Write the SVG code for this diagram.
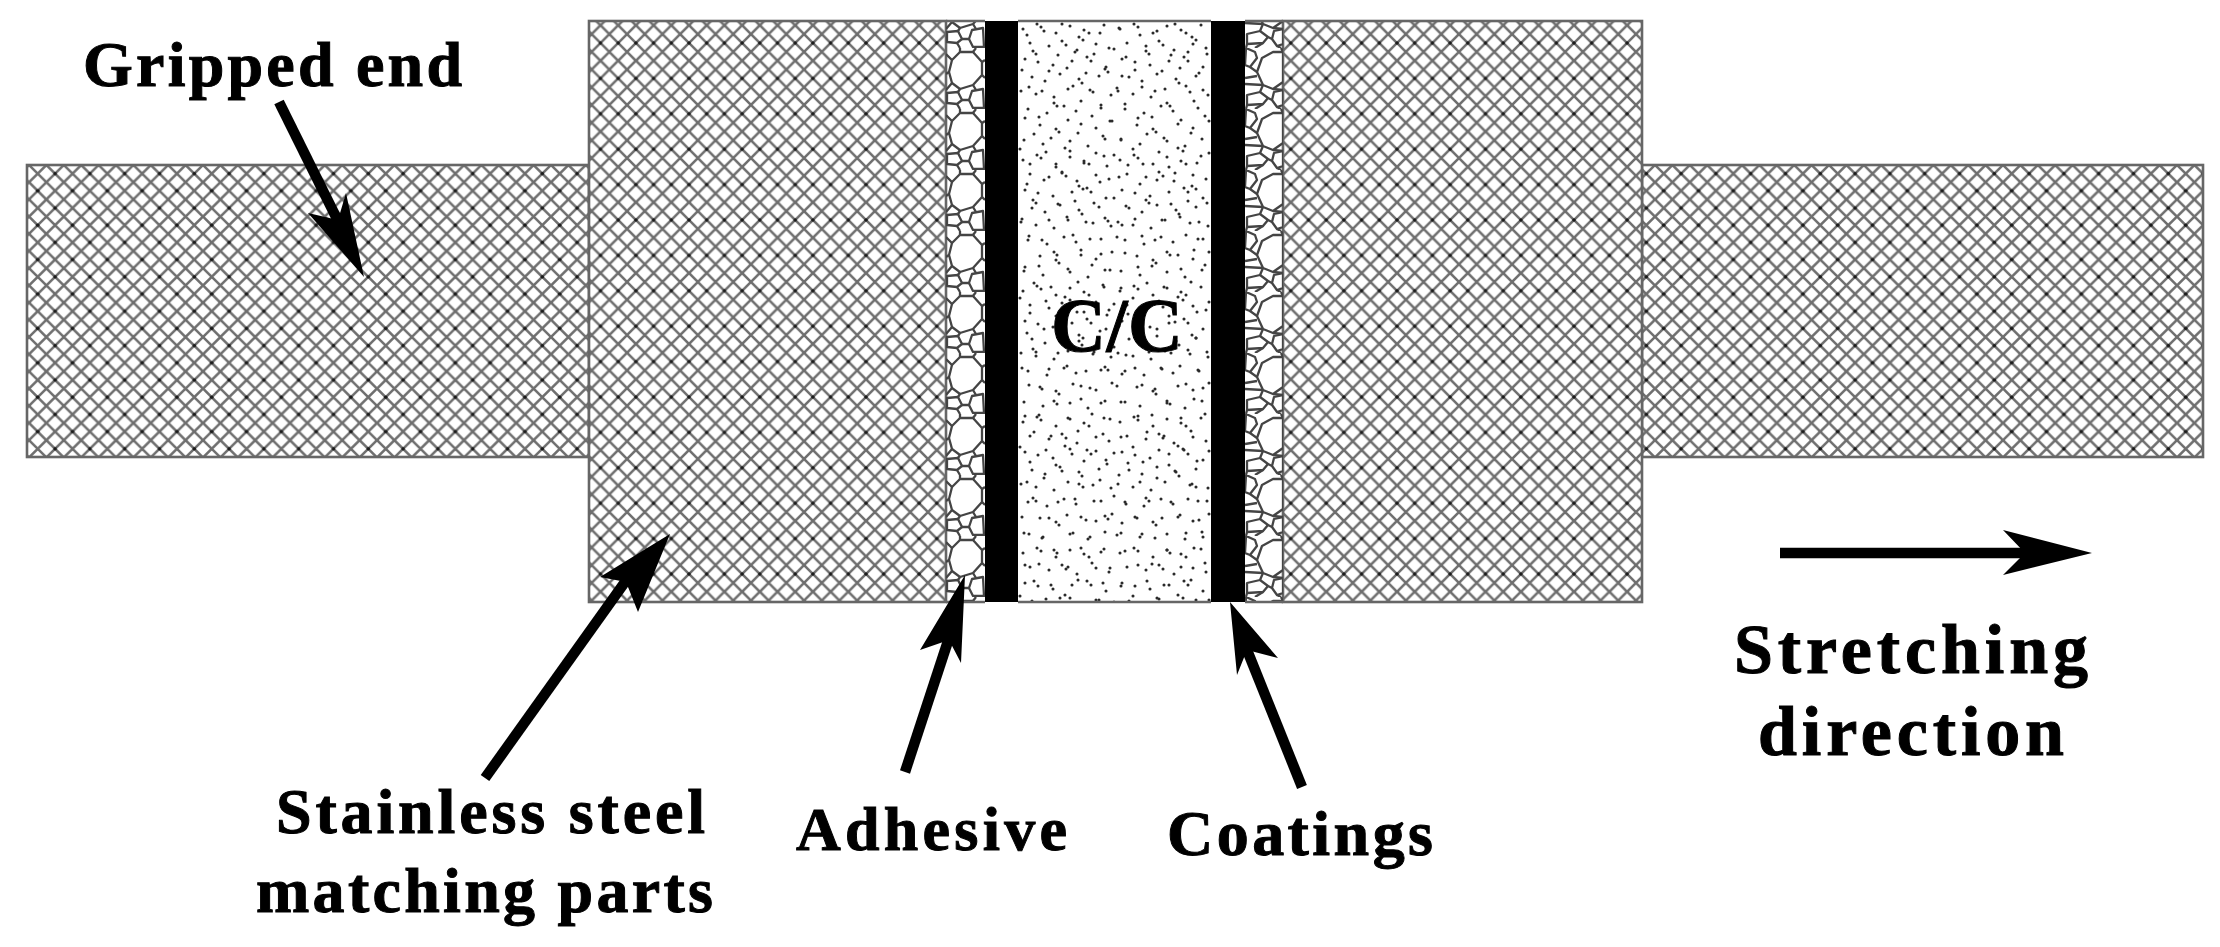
<svg xmlns="http://www.w3.org/2000/svg" width="2220" height="947" viewBox="0 0 2220 947">
<style>
.h{fill:none;stroke:#6e6e6e;stroke-width:2.5}
.n{fill:#1a1a1a}
.o{fill:none;stroke:#666;stroke-width:2.6}
.p{fill:#fff;stroke:#444;stroke-width:2.3;stroke-linejoin:round}
.l{fill:none;stroke:#444;stroke-width:2.3}
.s{fill:none;stroke:#2a2a2a;stroke-width:3.1;stroke-linecap:round}
.t{font-family:"Liberation Serif","Times New Roman",serif;font-weight:700;fill:#000;stroke:#000;stroke-width:1;font-size:64px}
.a line{stroke:#000;stroke-width:10.5}
.a polygon{fill:#000}
</style>
<defs>
<pattern id="fine" width="34.8" height="34.4" patternUnits="userSpaceOnUse" patternTransform="translate(29 165)">
<path class="h" d="M0 0L34.8 34.4M17.4 0L34.8 17.2M0 17.2L17.2 34.4M34.8 0L0 34.4M17.4 0L0 17.2M34.8 17.2L17.4 34.4"/>
<circle class="n" cx="26.1" cy="8.6" r="1.8"/><circle class="n" cx="8.7" cy="25.8" r="1.8"/>
</pattern>
<pattern id="fineR" width="34.8" height="34.4" patternUnits="userSpaceOnUse" patternTransform="translate(1655 165)">
<path class="h" d="M0 0L34.8 34.4M17.4 0L34.8 17.2M0 17.2L17.2 34.4M34.8 0L0 34.4M17.4 0L0 17.2M34.8 17.2L17.4 34.4"/>
<circle class="n" cx="26.1" cy="8.6" r="1.8"/><circle class="n" cx="8.7" cy="25.8" r="1.8"/>
</pattern>
<pattern id="coarse" width="17.7" height="35.4" patternUnits="userSpaceOnUse" patternTransform="translate(706.7 220)">
<path class="h" d="M0 0L17.7 17.7L0 35.4M17.7 0L0 17.7L17.7 35.4"/>
<circle class="n" cx="0" cy="0" r="1.8"/><circle class="n" cx="17.7" cy="0" r="1.8"/><circle class="n" cx="0" cy="35.4" r="1.8"/><circle class="n" cx="17.7" cy="35.4" r="1.8"/>
</pattern>
<pattern id="pebL" x="946" y="48" width="39" height="61" patternUnits="userSpaceOnUse">
<path class="l" d="M6 12L0 6M14 4L14 0M14 61L11 56M27 60L30 61M30 0L27 4M36 14L39 12M36 27L39 30M6 35L0 42M14 41L12 44M27 37L30 42M16 52L23 52M3 24L0 26"/>
<polygon class="p" points="3,24 6,12 14,4 27,4 36,14 36,27 27,37 14,41 6,35"/>
<polygon class="p" points="1,45 12,44 16,52 11,56 1,55"/>
<polygon class="p" points="26,43 37,41 38,60 27,60 23,52"/>
</pattern>
<pattern id="pebR" x="1245" y="48" width="38" height="61" patternUnits="userSpaceOnUse">
<path class="l" d="M5 19L12 24M0 30L12 28M0 36L18 37M18 37L15 44M28 41L38 42M23 50L27 52M18 56L10 61M32 59L36 61M36 0L38 4M2 57L1 61"/>
<polygon class="p" points="12,24 17,10 28,4 38,4 38,34 28,41 18,37"/>
<polygon class="p" points="1,0 10,4 12,10 5,19 0,17"/>
<polygon class="p" points="2,47 15,44 23,50 18,56 2,57"/>
<polygon class="p" points="27,52 32,59 38,57 38,42 29,44"/>
</pattern>
<pattern id="specA" x="1018" y="21" width="97" height="131" patternUnits="userSpaceOnUse">
<path class="s" d="M5 8h0M19 3h0M23 6h0M38 12h0M52 5h0M66 9h0M71 12h0M86 4h0M12 22h0M31 25h0M44 20h0M48 24h0M59 29h0M78 23h0M91 27h0M7 38h0M20 41h0M35 44h0M54 40h0M69 36h0M73 40h0M88 46h0M14 56h0M27 60h0M42 53h0M61 58h0M64 62h0M81 55h0M3 70h0M18 73h0M36 76h0M50 68h0M75 71h0M93 74h0M10 88h0M29 92h0M46 85h0M58 90h0M83 87h0M22 104h0M38 108h0M41 111h0M63 103h0M78 107h0M94 100h0M6 119h0M25 123h0M52 120h0M70 125h0M87 118h0"/>
</pattern>
<pattern id="specB" x="1018" y="21" width="113" height="149" patternUnits="userSpaceOnUse">
<path class="s" d="M9 14h0M26 10h0M44 3h0M61 16h0M65 19h0M82 12h0M101 7h0M15 30h0M18 33h0M40 34h0M57 31h0M76 33h0M96 28h0M108 36h0M4 49h0M31 50h0M49 47h0M68 52h0M87 48h0M90 51h0M104 55h0M11 66h0M24 70h0M55 65h0M72 69h0M99 67h0M36 82h0M39 85h0M63 80h0M83 84h0M107 83h0M7 97h0M21 96h0M50 99h0M74 95h0M92 100h0M16 113h0M33 117h0M60 112h0M85 115h0M103 118h0M2 128h0M28 131h0M47 127h0M52 130h0M78 132h0M96 134h0M12 143h0M38 146h0M66 142h0M89 145h0M110 144h0"/>
</pattern>
</defs>
<rect width="2220" height="947" fill="#fff"/>
<g id="grip-left"><rect x="27" y="165" width="562" height="292" fill="url(#fine)"/><rect class="o" x="27" y="165" width="562" height="292"/></g>
<g id="grip-right"><rect x="1642" y="165" width="561" height="292" fill="url(#fineR)"/><rect class="o" x="1642" y="165" width="561" height="292"/></g>
<g id="steel-left"><rect x="589" y="21" width="357" height="581" fill="#fff"/><rect x="589" y="21" width="357" height="581" fill="url(#coarse)"/><rect class="o" x="589" y="21" width="357" height="581"/></g>
<g id="steel-right"><rect x="1283" y="21" width="359" height="581" fill="#fff"/><rect x="1283" y="21" width="359" height="581" fill="url(#coarse)"/><rect class="o" x="1283" y="21" width="359" height="581"/></g>
<g id="adhesive-left"><rect x="946" y="21" width="39" height="581" fill="url(#pebL)"/><path class="o" d="M946 21H985M946 602H985"/></g>
<g id="adhesive-right"><rect x="1245" y="21" width="38" height="581" fill="url(#pebR)"/><path class="o" d="M1245 21H1283M1245 602H1283"/></g>
<g id="coating-left"><rect x="985" y="21" width="33" height="581" fill="#000"/></g>
<g id="coating-right"><rect x="1211" y="21" width="34" height="581" fill="#000"/></g>
<g id="cc"><rect x="1018" y="21" width="193" height="581" fill="url(#specA)"/><rect x="1018" y="21" width="193" height="581" fill="url(#specB)"/><path class="o" d="M1018 21H1211M1018 602H1211"/>
<text class="t" x="1051" y="351" style="font-size:76px" textLength="132">C/C</text></g>
<g id="connectors">
<g class="a"><line x1="279" y1="102" x2="340" y2="225"/><polygon points="364,277 346,193 338,220 308,213"/></g>
<g class="a"><line x1="485" y1="778" x2="630" y2="575"/><polygon points="670,534 638,612 626,582 600,577"/></g>
<g class="a"><line x1="905" y1="772" x2="950" y2="635"/><polygon points="965,575 961,663 949,640 920,650"/></g>
<g class="a"><line x1="1302" y1="787" x2="1245" y2="645"/><polygon points="1230,602 1278,658 1247,650 1237,675"/></g>
<g class="a"><line x1="1780" y1="553" x2="2030" y2="553"/><polygon points="2092,553 2003,530 2025,553 2003,575"/></g>
</g>
<g id="labels">
<text class="t" x="83" y="86" textLength="379">Gripped end</text>
<text class="t" x="276" y="833" textLength="429">Stainless steel</text>
<text class="t" x="256" y="912" textLength="457">matching parts</text>
<text class="t" x="796" y="850" style="font-size:62px" textLength="271">Adhesive</text>
<text class="t" x="1167" y="855" textLength="266">Coatings</text>
<text class="t" x="1734" y="673" style="font-size:70px" textLength="354">Stretching</text>
<text class="t" x="1758" y="755" style="font-size:70px" textLength="306">direction</text>
</g>
</svg>
